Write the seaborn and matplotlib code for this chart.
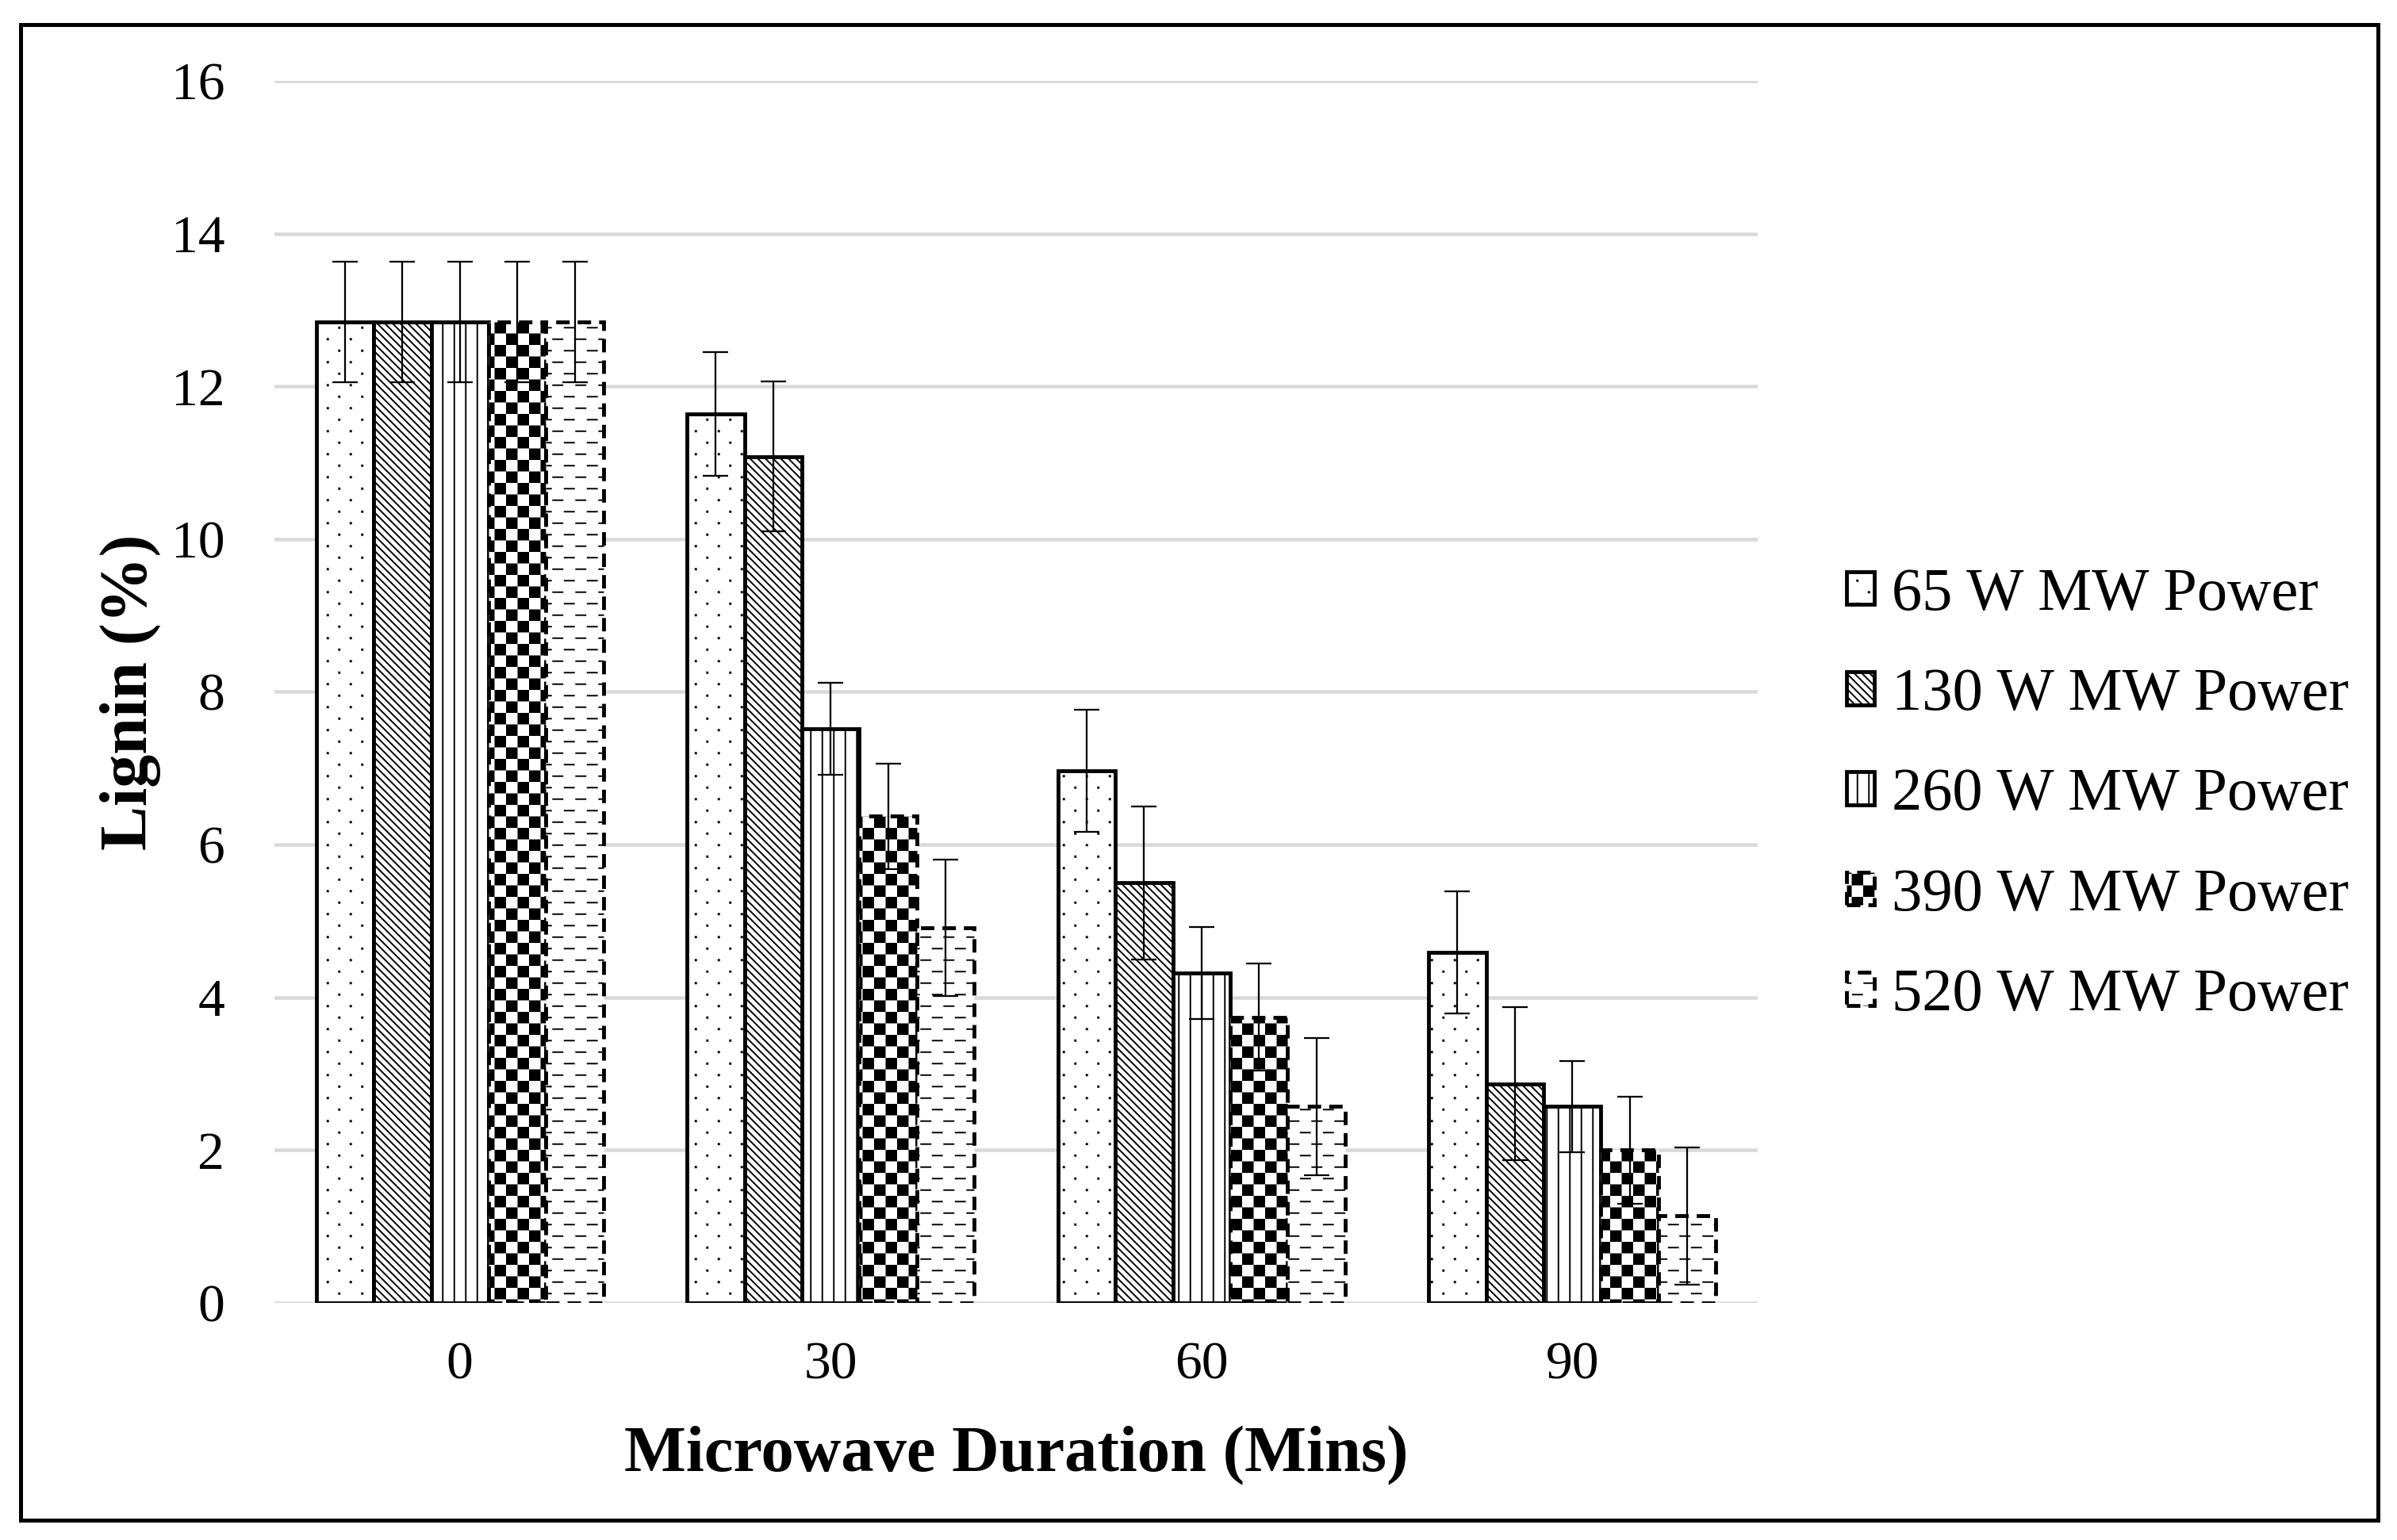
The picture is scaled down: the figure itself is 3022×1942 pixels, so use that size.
import warnings
import numpy as np
import pandas as pd
import seaborn as sns
import matplotlib
matplotlib.use("Agg")
import matplotlib.pyplot as plt
from matplotlib import hatch as mhatch
from matplotlib.path import Path
from matplotlib.patches import Rectangle

warnings.filterwarnings("ignore")

# data
durations = ["0", "30", "60", "90"]
powers = ["65 W MW Power", "130 W MW Power", "260 W MW Power",
          "390 W MW Power", "520 W MW Power"]
lignin_65 = [12.84, 11.64, 6.97, 4.59]
lignin_130 = [12.84, 11.08, 5.50, 2.87]
lignin_260 = [12.84, 7.52, 4.32, 2.57]
lignin_390 = [12.84, 6.37, 3.74, 2.00]
lignin_520 = [12.84, 4.91, 2.57, 1.14]
err_65 = [0.79, 0.81, 0.80, 0.80]
err_130 = [0.79, 0.98, 1.00, 1.00]
err_260 = [0.79, 0.60, 0.60, 0.60]
err_390 = [0.79, 0.69, 0.70, 0.70]
err_520 = [0.79, 0.89, 0.90, 0.90]

values = [lignin_65, lignin_130, lignin_260, lignin_390, lignin_520]
errors = [err_65, err_130, err_260, err_390, err_520]

DPI = 116
W, H = 3022, 1942

# Excel style fill patterns as extra hatch letters (hatch tile = DPI px)
px = 1.0 / DPI
SQ = [Path.MOVETO, Path.LINETO, Path.LINETO, Path.LINETO, Path.CLOSEPOLY]
SEG = [Path.MOVETO, Path.LINETO]


def square(x0, y0, x1, y1):
    return np.array([[x0, y0], [x1, y0], [x1, y1], [x0, y1], [x0, y0]]), SQ


def seg(x0, y0, x1, y1):
    return np.array([[x0, y0], [x1, y1]]), SEG


def dots():
    out = []
    h = 0.5 * px
    for r in range(8):
        y = (r + 0.5) / 8
        for c in range(4):
            x = (c + 0.25 + 0.5 * (r % 2)) / 4
            out.append(square(x - h, y - h, x + h, y + h))
    return out


def diagonals():
    n = 12
    return [seg(k / n - 1.1, 1.1, k / n + 0.1, -0.1) for k in range(2 * n + 1)]


def verticals():
    return [seg((i + 0.5) / 8, -0.1, (i + 0.5) / 8, 1.1) for i in range(8)]


def checker():
    out = []
    d = 0.97 * px
    for i in range(8):
        for j in range(8):
            if (i + j) % 2 == 0:
                out.append(square(i / 8 + d, j / 8 + d, (i + 1) / 8 - d, (j + 1) / 8 - d))
    return out


def dashes():
    out = []
    half = 6 * px
    for r in range(8):
        y = (r + 0.5) / 8
        for c in range(4):
            x = (c + 0.25 + 0.5 * (r % 2)) / 4
            out.append(seg(x - half, y, x + half, y))
    return out


class ExcelPatterns(mhatch.HatchPatternBase):
    makers = {"p": dots, "d": diagonals, "v": verticals, "k": checker, "e": dashes}

    def __init__(self, hatch, density):
        self.parts = []
        for ch, fn in self.makers.items():
            if ch in hatch:
                self.parts += fn()
        self.num_vertices = sum(len(v) for v, _ in self.parts)

    def set_vertices_and_codes(self, vertices, codes):
        vertices[:] = np.concatenate([v for v, _ in self.parts])
        codes[:] = np.concatenate([c for _, c in self.parts])


mhatch._hatch_types.append(ExcelPatterns)

hatches = ["p", "d", "v", "k", "e"]
edge_styles = ["solid", "solid", "solid", (0, (3.5, 2.1)), (0, (3.5, 2.1))]

plt.rcParams["font.family"] = ["Liberation Serif", "DejaVu Serif"]
plt.rcParams["hatch.linewidth"] = 1.2
plt.rcParams["hatch.color"] = "black"

df = pd.DataFrame({
    "Duration": np.tile(durations, len(powers)),
    "Power": np.repeat(powers, len(durations)),
    "Lignin": np.concatenate(values),
})

fig = plt.figure(figsize=(W / DPI, H / DPI), dpi=DPI)
ax = fig.add_axes([346 / W, 1 - 1643 / H, (2216 - 346) / W, 1541 / H])

sns.barplot(data=df, x="Duration", y="Lignin", hue="Power", order=durations,
            hue_order=powers, palette={p: "white" for p in powers}, saturation=1,
            width=0.775, errorbar=None, edgecolor="black", linewidth=3.0,
            legend=False, ax=ax)

for cont, h, ls, errs in zip(ax.containers, hatches, edge_styles, errors):
    for bar in cont:
        bar.set_hatch(h)
        bar.set_linestyle(ls)
    xs = [b.get_x() + b.get_width() / 2 for b in cont]
    ys = [b.get_height() for b in cont]
    es = [errs[int(round(x))] for x in xs]
    ax.errorbar(xs, ys, yerr=es, fmt="none", ecolor="black", elinewidth=1.4,
                capsize=10, capthick=1.4, zorder=5)

ax.set_ylim(0, 16)
ax.set_yticks(range(0, 17, 2))
ax.set_xlim(-0.5, 3.5)
ax.set_axisbelow(True)
ax.yaxis.grid(True, color="#d9d9d9", linewidth=2.8)
ax.xaxis.grid(False)
for s in ax.spines.values():
    s.set_visible(False)
ax.tick_params(axis="both", length=0, labelsize=42, colors="black")
ax.tick_params(axis="y", pad=39)
ax.tick_params(axis="x", pad=30)

ax.set_xlabel("Microwave Duration (Mins)", fontsize=51.2, fontweight="bold")
ax.set_ylabel("Lignin (%)", fontsize=52, fontweight="bold")
ax.xaxis.label.set_va("center")
ax.yaxis.label.set_va("center")
ax.xaxis.set_label_coords(0.5, (1643 - 1836) / 1541)
ax.yaxis.set_label_coords((164 - 346) / 1870, 0.5)

fig.legend(handles=ax.containers, labels=powers, loc="center left",
           bbox_to_anchor=(2328 / W, 1 - 1003 / H), frameon=False, fontsize=47.5,
           handlelength=0.46, handleheight=0.46, handletextpad=0.28,
           labelspacing=0.75, borderpad=0, borderaxespad=0)

fig.add_artist(Rectangle((26 / W, 1 - 1917 / H), (2998 - 26) / W, (1917 - 31) / H,
                         transform=fig.transFigure, fill=False,
                         edgecolor="black", linewidth=3.1))

fig.savefig("out.png", dpi=DPI)
